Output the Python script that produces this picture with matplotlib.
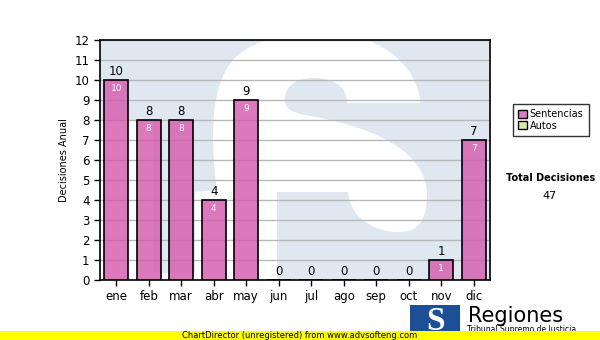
import matplotlib.pyplot as plt
import matplotlib.patches as mpatches
from matplotlib.path import Path
from matplotlib.transforms import Affine2D

# monthly decisions
months = ['ene', 'feb', 'mar', 'abr', 'may', 'jun', 'jul', 'ago', 'sep', 'oct', 'nov', 'dic']
sentencias = [10, 8, 8, 4, 9, 0, 0, 0, 0, 0, 1, 7]
autos = [0, 0, 0, 0, 0, 0, 0, 0, 0, 0, 0, 0]
total = sum(sentencias) + sum(autos)

fig = plt.figure(figsize=(6, 3.4), dpi=100)
ax = fig.add_axes([100 / 600, 1 - 280 / 340, 390 / 600, 240 / 340])
ax.set_facecolor('#dfe8f1')

# watermark: the logo "S", outline given in image pixels of the plot area
M, L, C, Z = Path.MOVETO, Path.LINETO, Path.CURVE4, Path.CLOSEPOLY
s_verts = [(213, 135),
           (213, 100), (220, 75), (233, 60),
           (245, 45), (280, 32), (315, 32),
           (345, 32), (370, 38), (390, 52),
           (408, 65), (420, 85), (420, 103),
           (347, 103),
           (347, 85), (332, 78), (313, 78),
           (292, 78), (283, 90), (285, 103),
           (287, 112), (300, 114), (315, 117),
           (370, 127), (427, 150), (427, 195),
           (427, 220), (418, 232), (400, 232),
           (370, 232), (350, 215), (348, 192),
           (277, 192), (277, 300), (195, 300), (195, 192), (217, 190),
           (214, 170), (213, 150), (213, 135),
           (213, 135),
           (80, 120), (153, 120), (153, 273), (200, 273), (200, 300), (80, 300), (80, 120)]
s_codes = ([M] + [C] * 12 + [L] + [C] * 18 + [L] * 5 + [C] * 3 + [Z]
           + [M] + [L] * 5 + [Z])
px_to_axes = Affine2D().translate(-100, -280).scale(1 / 390, -1 / 240)
wm = mpatches.PathPatch(Path(s_verts, s_codes), facecolor='white', edgecolor='none',
                        transform=px_to_axes + ax.transAxes, zorder=0.5)
ax.add_patch(wm)
wm.set_clip_path(ax.patch)

x = range(len(months))
ax.bar(x, sentencias, width=0.74, color='#d45cae', alpha=0.82, edgecolor='none', zorder=3)
ax.bar(x, sentencias, width=0.74, fill=False, edgecolor='black', linewidth=1.2, zorder=3.5)

for i, v in enumerate(sentencias):
    ax.text(i, v + 0.12, str(v), ha='center', va='bottom', fontsize=8.5, zorder=4)
    if v > 0:
        ax.text(i, v - 0.2, str(v), ha='center', va='top', fontsize=6.5, color='white', zorder=4)

ax.set_xlim(-0.5, 11.5)
ax.set_ylim(0, 12)
ax.set_yticks(range(13))
ax.set_xticks(list(x))
ax.set_xticklabels(months)
ax.tick_params(labelsize=8.5, length=4, width=1)
ax.yaxis.grid(True, color='#b8b8b8', linewidth=1, zorder=1)
ax.set_axisbelow(True)
for s in ax.spines.values():
    s.set_linewidth(1.2)
ax.set_ylabel('Decisiones Anual', fontsize=7)

# legend
handles = [mpatches.Patch(facecolor='#e07cc4', edgecolor='black', label='Sentencias'),
           mpatches.Patch(facecolor='#d8eaa4', edgecolor='black', label='Autos')]
leg = fig.legend(handles=handles, loc='upper left', bbox_to_anchor=(508 / 600, 1 - 99 / 340),
                 fontsize=7, frameon=True, fancybox=False, handlelength=0.9, handleheight=0.9,
                 handletextpad=0.3, labelspacing=0.15, borderpad=0.55, edgecolor='black')
leg.get_frame().set_linewidth(1)

fig.text(551 / 600, 1 - 178 / 340, 'Total Decisiones', fontsize=7, fontweight='bold', ha='center', va='center')
fig.text(550 / 600, 1 - 196 / 340, str(total), fontsize=8, ha='center', va='center')

# logo
fig.patches.append(mpatches.Rectangle((410 / 600, 0), 50 / 600, 35 / 340, transform=fig.transFigure,
                                      facecolor='#1d4f96', edgecolor='none'))
fig.text(436 / 600, 19 / 340, 'S', fontsize=24, color='white', family='Liberation Serif',
         fontweight='bold', ha='center', va='center')
fig.text(468 / 600, 1 - 316 / 340, 'Regiones', fontsize=15, ha='left', va='center')
fig.text(467 / 600, 1 - 330 / 340, 'Tribunal Supremo de Justicia', fontsize=5.5, ha='left', va='center')

# footer band
fig.patches.append(mpatches.Rectangle((0, 0), 1, 9 / 340, transform=fig.transFigure,
                                      facecolor='#ffff00', edgecolor='none', zorder=5))
fig.text(0.5, 4.5 / 340, 'ChartDirector (unregistered) from www.advsofteng.com', fontsize=6,
         ha='center', va='center', zorder=6)

fig.savefig('out.png', dpi=100)
